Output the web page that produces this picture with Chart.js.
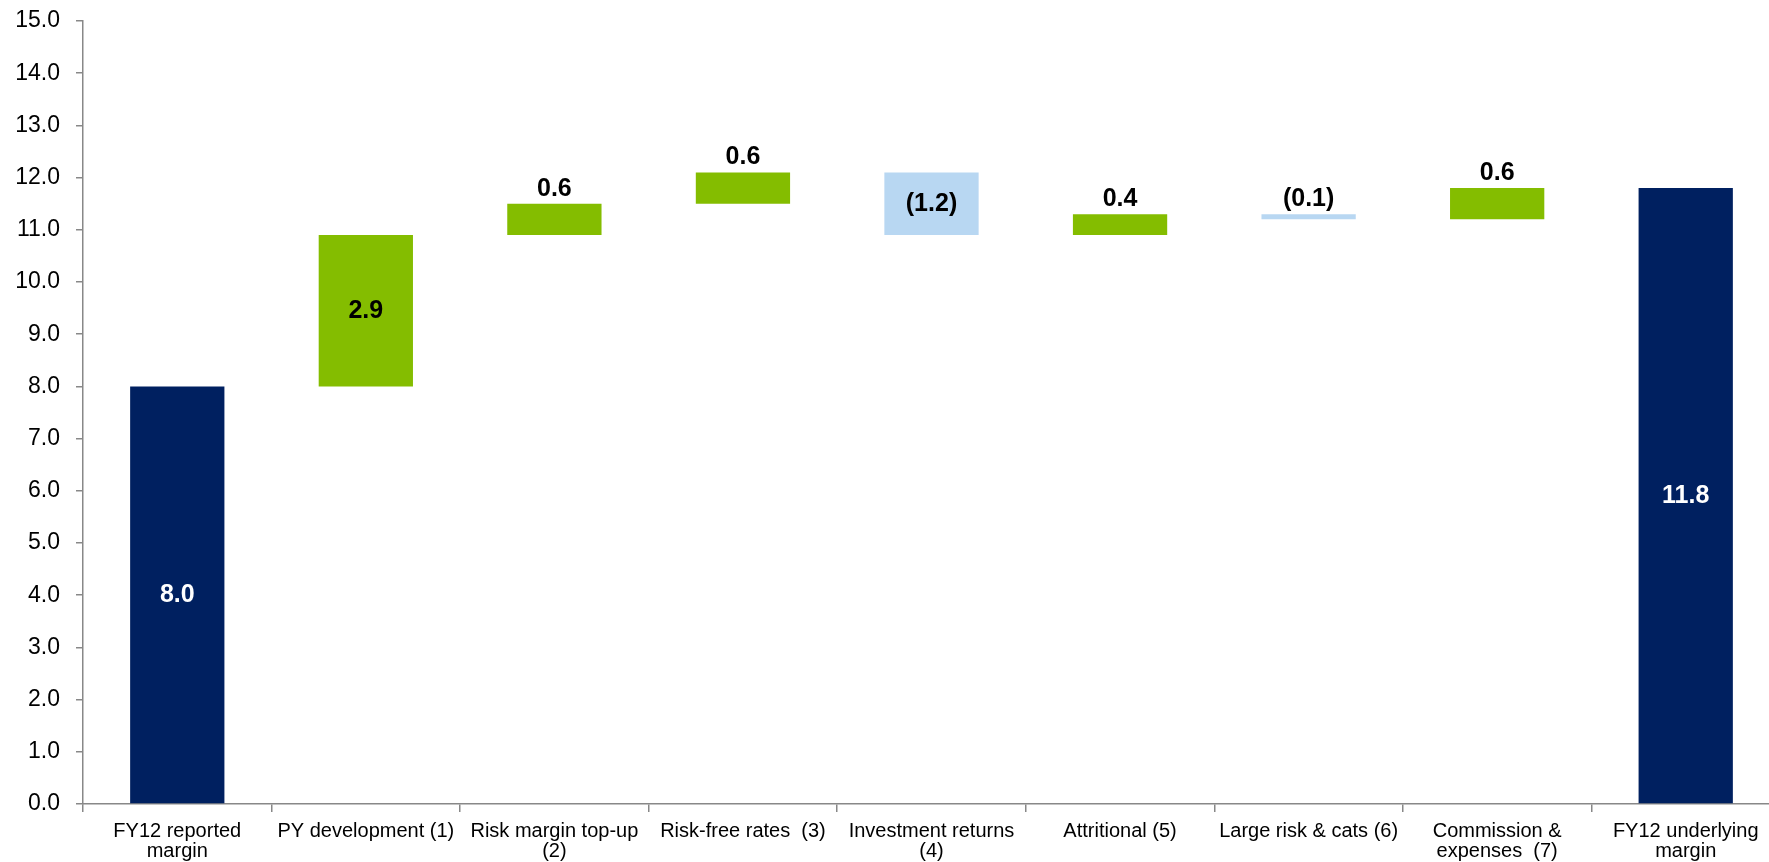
<!DOCTYPE html>
<html>
<head>
<meta charset="utf-8">
<script src="https://cdn.jsdelivr.net/npm/chart.js@4/dist/chart.umd.min.js"></script>
<style>
    body { margin: 0; background: #fff; overflow: hidden; }
    #wrap { width: 1780px; height: 862px; }
</style>
</head>
<body>
<div id="wrap"><canvas id="bridgeChart" width="1780" height="862"></canvas></div>
<script>
const categories = [
    ['FY12 reported', 'margin'],
    ['PY development (1)'],
    ['Risk margin top-up', '(2)'],
    ['Risk-free rates  (3)'],
    ['Investment returns', '(4)'],
    ['Attritional (5)'],
    ['Large risk & cats (6)'],
    ['Commission &', 'expenses  (7)'],
    ['FY12 underlying', 'margin']
];
const changes = [8.0, 2.9, 0.6, 0.6, -1.2, 0.4, -0.1, 0.6, 11.8];
const barKinds = ['total', 'up', 'up', 'up', 'down', 'up', 'down', 'up', 'total'];
const yTicks = [0, 15];

const kindColors = { total: '#002060', up: '#84BD00', down: '#B8D7F2' };

// build floating bars from the running total
let running = 0;
const floating = changes.map((v, i) => {
    if (barKinds[i] === 'total') {
        running = v;
        return [0, v];
    }
    const start = running;
    running = Math.round((running + v) * 10) / 10;
    return [start, running];
});

const fmt = v => v < 0 ? '(' + Math.abs(v).toFixed(1) + ')' : v.toFixed(1);

const valueLabels = {
    id: 'valueLabels',
    afterDatasetsDraw(chart) {
        const ctx = chart.ctx;
        const meta = chart.getDatasetMeta(0);
        ctx.save();
        ctx.font = 'bold 25px "Liberation Sans", Arial, sans-serif';
        ctx.textAlign = 'center';
        meta.data.forEach((bar, i) => {
            const top = Math.min(bar.y, bar.base);
            const bottom = Math.max(bar.y, bar.base);
            ctx.fillStyle = barKinds[i] === 'total' ? '#ffffff' : '#000000';
            if (bottom - top > 45) {
                ctx.textBaseline = 'middle';
                ctx.fillText(fmt(changes[i]), bar.x, (top + bottom) / 2);
            } else {
                ctx.textBaseline = 'alphabetic';
                ctx.fillText(fmt(changes[i]), bar.x, top - 8);
            }
        });
        ctx.restore();
    }
};

const ctx = document.getElementById('bridgeChart').getContext('2d');
new Chart(ctx, {
    type: 'bar',
    data: {
        labels: categories,
        datasets: [{
            data: floating,
            backgroundColor: barKinds.map(k => kindColors[k]),
            borderWidth: 0,
            barPercentage: 0.5,
            categoryPercentage: 1.0
        }]
    },
    options: {
        responsive: false,
        animation: false,
        layout: { padding: { top: 21, right: 0, bottom: 0, left: 0 } },
        plugins: {
            legend: { display: false },
            tooltip: { enabled: false }
        },
        scales: {
            x: {
                offset: true,
                grid: {
                    offset: true,
                    drawOnChartArea: false,
                    drawTicks: true,
                    tickLength: 8,
                    color: '#888888',
                    lineWidth: 1.5
                },
                border: { color: '#888888', width: 1.5 },
                ticks: {
                    color: '#000000',
                    maxRotation: 0,
                    autoSkip: false,
                    padding: 9,
                    font: { family: '"Liberation Sans", Arial, sans-serif', size: 20, lineHeight: 1.0 }
                },
                afterFit: scale => {
                    scale.height = 58;
                    scale.paddingLeft = 0;
                    scale.paddingRight = 0;
                }
            },
            y: {
                min: yTicks[0],
                max: yTicks[1],
                ticks: {
                    stepSize: 1,
                    color: '#000000',
                    padding: 16,
                    font: { family: '"Liberation Sans", Arial, sans-serif', size: 23 },
                    callback: v => v.toFixed(1)
                },
                grid: {
                    drawOnChartArea: false,
                    drawTicks: true,
                    tickLength: 7,
                    color: '#888888',
                    lineWidth: 1.5
                },
                border: { color: '#888888', width: 1.5 },
                afterFit: scale => {
                    scale.width = 83;
                    scale.paddingTop = 0;
                    scale.paddingBottom = 0;
                }
            }
        }
    },
    plugins: [valueLabels]
});
</script>
</body>
</html>
